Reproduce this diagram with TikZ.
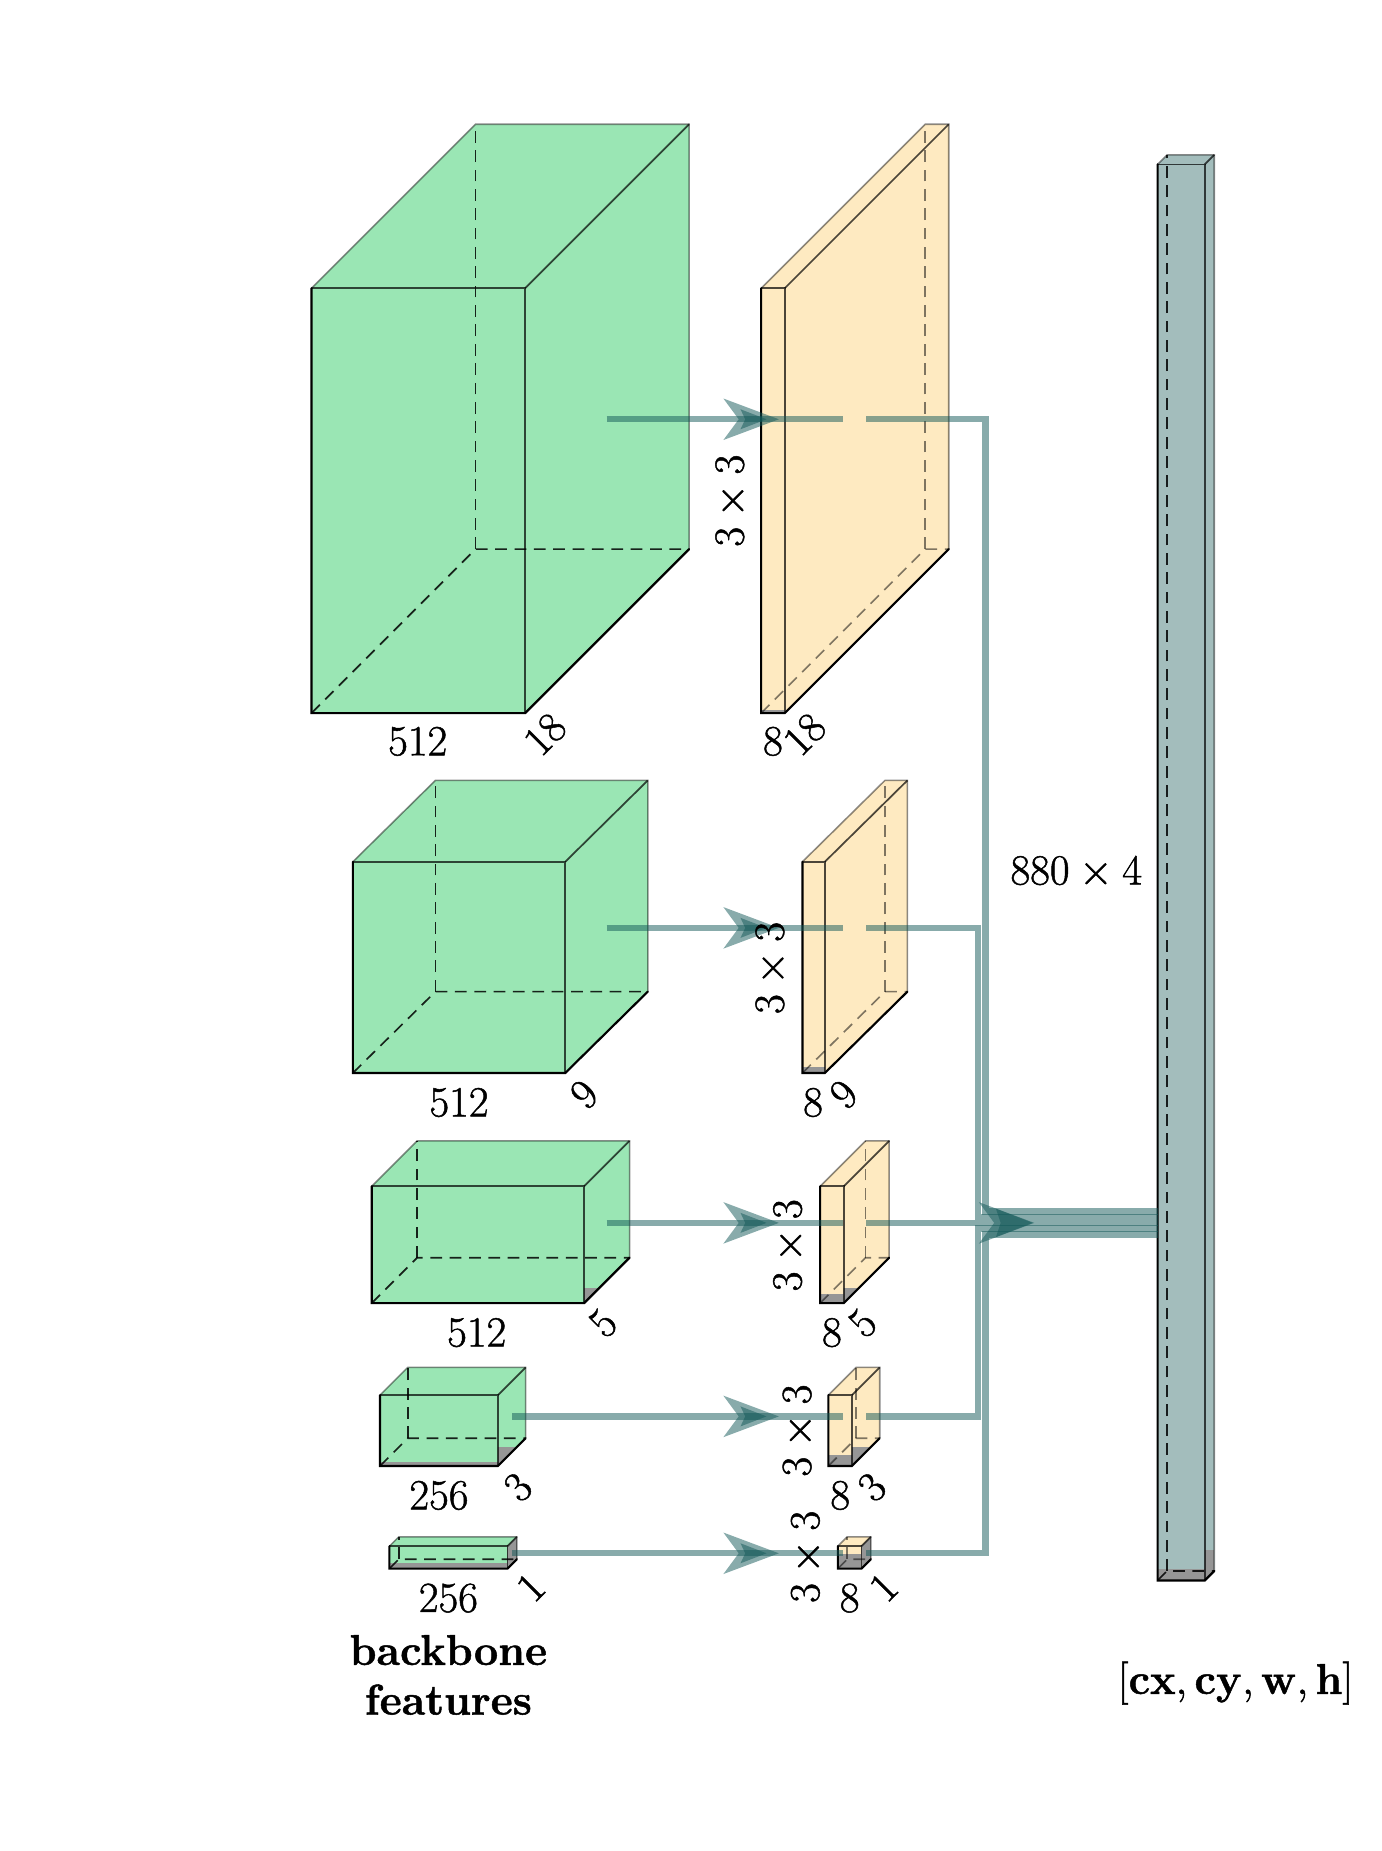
\documentclass[tikz,border=0pt]{standalone}
\usetikzlibrary{calc}
\definecolor{gface}{RGB}{154,230,180}
\definecolor{yface}{RGB}{254,234,193}
\definecolor{tface}{RGB}{163,189,188}
\definecolor{shadegray}{RGB}{150,150,150}
\definecolor{conn}{RGB}{18,88,88}
\newcommand{\hidop}{.85}
\tikzset{
  dimlabel/.style={inner sep=0pt,font=\Huge\special{pdf:code 2 Tr 0.28 w}},
  frontedge/.style={black,line width=1.25pt,line cap=round},
  sideedge/.style={black,draw opacity=.7,line width=1pt},
  backedge/.style={black,draw opacity=.45,line width=.9pt},
  hiddenedge/.style={black,draw opacity=\hidop,line width=.95pt,dash pattern=on 6.8pt off 4.4pt},
  flow/.style={conn,draw opacity=.5,line width=3.7pt,line join=miter},
  flowhead/.style={conn,fill opacity=.5,draw=none}
}
% #1 name, #2 L, #3 R, #4 T, #5 B, #6 depth x, #7 depth y, #8 colour, #9 shading heights "front/right"
\newcommand{\cuboid}[9]{%
  \coordinate (#1-fl) at (#2,#5);\coordinate (#1-fr) at (#3,#5);
  \coordinate (#1-tl) at (#2,#4);\coordinate (#1-tr) at (#3,#4);
  \coordinate (#1-bl) at ($(#2,#5)+(#6,-#7)$);\coordinate (#1-br) at ($(#3,#5)+(#6,-#7)$);
  \coordinate (#1-ul) at ($(#2,#4)+(#6,-#7)$);\coordinate (#1-ur) at ($(#3,#4)+(#6,-#7)$);
  \fill[#8] (#1-fl)--(#1-tl)--(#1-ul)--(#1-ur)--(#1-br)--(#1-fr)--cycle;
  \foreach \gf/\gr in {#9}{%
    \begin{scope}
      \clip (#1-fr)--(#1-tr)--(#1-ur)--(#1-br)--cycle;
      \fill[shadegray] ($(#3,#5)+(-1,-\gr)$) rectangle ($(#3,#5)+(#6+1,1)$);
    \end{scope}
    \begin{scope}
      \clip (#1-fl)--(#1-tl)--(#1-tr)--(#1-fr)--cycle;
      \fill[shadegray] ($(#2,#5)+(0,-\gf)$) rectangle (#1-fr);
    \end{scope}
  }
  \draw[hiddenedge] (#1-fl)--(#1-bl)--(#1-br);
  \draw[hiddenedge] (#1-bl)--(#1-ul);
  \draw[backedge] (#1-tl)--(#1-ul)--(#1-ur)--(#1-br);
  \draw[sideedge] (#1-tl)--(#1-tr)--(#1-fr);
  \draw[sideedge] (#1-tr)--(#1-ur);
  \draw[frontedge] (#1-tl)--(#1-fl)--(#1-fr)--(#1-br);
}
\newcommand{\headat}[3]{%
  \fill[flowhead] ($(#1)+(-36.5,0)$) ++(0,#2) -- ++(47,-#2) -- ++(-47,-#2) -- ++(13,#2) -- cycle;
  \fill[flowhead] ($(#1)+(-22,0)$) ++(0,#3) -- ++(2.6*#3,-#3) -- ++(-2.6*#3,-#3) -- ++(4,#3) -- cycle;
}
\begin{document}
\begin{tikzpicture}[x=0.6829pt,y=-0.6829pt]
\useasboundingbox (0,-0.3) rectangle (1171,1568.3);
% feature boxes
\cuboid{ga}{264}{445}{244}{604}{139}{139}{gface}{0/0}
\cuboid{gb}{299}{479}{730}{909}{70}{69}{gface}{0/0}
\cuboid{gc}{315}{495}{1005}{1104}{38.5}{38.5}{gface}{0/13}
\cuboid{gd}{322}{422}{1182}{1242}{23.5}{23.5}{gface}{3.7/16}
\cuboid{ge}{330}{430}{1310}{1329}{8}{8}{gface}{4.5/30}
\cuboid{out}{981}{1021}{139}{1339}{8}{8}{tface}{10/26}
\renewcommand{\hidop}{.5}
\cuboid{ya}{645}{665}{244}{604}{139}{139}{yface}{2.5/0}
\cuboid{yb}{680}{699}{730}{909}{70}{69}{yface}{5/0}
\cuboid{yc}{695}{715}{1005}{1104}{38.5}{38.5}{yface}{8/13}
\cuboid{yd}{702}{722}{1182}{1242}{23.5}{23.5}{yface}{9.3/16}
\cuboid{ye}{710}{730}{1310}{1329}{8}{8}{yface}{12/30}
% named connector points
\coordinate (sa) at (514,355);\coordinate (ma) at (714,355);\coordinate (na) at (734,355);
\coordinate (sb) at (514,786);\coordinate (mb) at (714,786);\coordinate (nb) at (734,786);
\coordinate (sc) at (514,1036);\coordinate (mc) at (714,1036);\coordinate (nc) at (734,1036);
\coordinate (sd) at (434,1200);\coordinate (md) at (714,1200);\coordinate (nd) at (734,1200);
\coordinate (se) at (434,1316);\coordinate (me) at (714,1316);\coordinate (ne) at (734,1316);
\coordinate (ea) at (835,1026.2);\coordinate (eb) at (829,1031.1);\coordinate (ed) at (829,1040.9);\coordinate (ee) at (835,1045.8);
\coordinate (hx) at (649.5,0);
\draw[flow] (sa)--(ma);\draw[flow] (na)-|(ea)--(ea-|out-fl);
\draw[flow] (sb)--(mb);\draw[flow] (nb)-|(eb)--(eb-|out-fl);
\draw[flow] (sc)--(mc);\draw[flow] (nc)--(nc-|out-fl);
\draw[flow] (sd)--(md);\draw[flow] (nd)-|(ed)--(ed-|out-fl);
\draw[flow] (se)--(me);\draw[flow] (ne)-|(ee)--(ee-|out-fl);
\headat{sa-|hx}{17.6}{8.5}
\headat{sb-|hx}{17.6}{8.5}
\headat{sc-|hx}{17.6}{8.5}
\headat{sd-|hx}{17.6}{8.5}
\headat{se-|hx}{17.6}{8.5}
\coordinate (hm) at (866,1036);
\headat{hm}{17.6}{12}
% labels
\node[dimlabel] (la1) at (354,628) {$512$};
\node[dimlabel,rotate=45] (la2) at (462,622) {$18$};
\node[dimlabel] (la3) at (655,628) {$8$};
\node[dimlabel,rotate=45] (la4) at (682,622) {$18$};
\node[dimlabel,rotate=90] (la5) at (620,424) {$3\times3$};
\node[dimlabel] (lb1) at (389,934) {$512$};
\node[dimlabel,rotate=45] (lb2) at (495,927) {$9$};
\node[dimlabel] (lb3) at (689,934) {$8$};
\node[dimlabel,rotate=45] (lb4) at (715,927) {$9$};
\node[dimlabel,rotate=90] (lb5) at (654,820) {$3\times3$};
\node[dimlabel] (lc1) at (404,1129) {$512$};
\node[dimlabel,rotate=45] (lc2) at (511,1121) {$5$};
\node[dimlabel] (lc3) at (705,1129) {$8$};
\node[dimlabel,rotate=45] (lc4) at (731,1121) {$5$};
\node[dimlabel,rotate=90] (lc5) at (669,1055) {$3\times3$};
\node[dimlabel] (ld1) at (372,1267) {$256$};
\node[dimlabel,rotate=45] (ld2) at (439,1260) {$3$};
\node[dimlabel] (ld3) at (712,1267) {$8$};
\node[dimlabel,rotate=45] (ld4) at (739,1260) {$3$};
\node[dimlabel,rotate=90] (ld5) at (677,1212) {$3\times3$};
\node[dimlabel] (le1) at (380,1354) {$256$};
\node[dimlabel,rotate=45] (le2) at (450,1345) {$1$};
\node[dimlabel] (le3) at (720,1354) {$8$};
\node[dimlabel,rotate=45] (le4) at (749,1345) {$1$};
\node[dimlabel,rotate=90] (le5) at (684,1319) {$3\times3$};
\node[dimlabel] (size) at (912,739) {$880\times4$};
\node[dimlabel] (bb1) at (380,1398) {\textbf{backbone}};
\node[dimlabel] (bb2) at (380,1440) {\textbf{features}};
\node[dimlabel] (res) at (1047,1426) {$[\mathbf{cx},\mathbf{cy},\mathbf{w},\mathbf{h}]$};
\end{tikzpicture}
\end{document}
